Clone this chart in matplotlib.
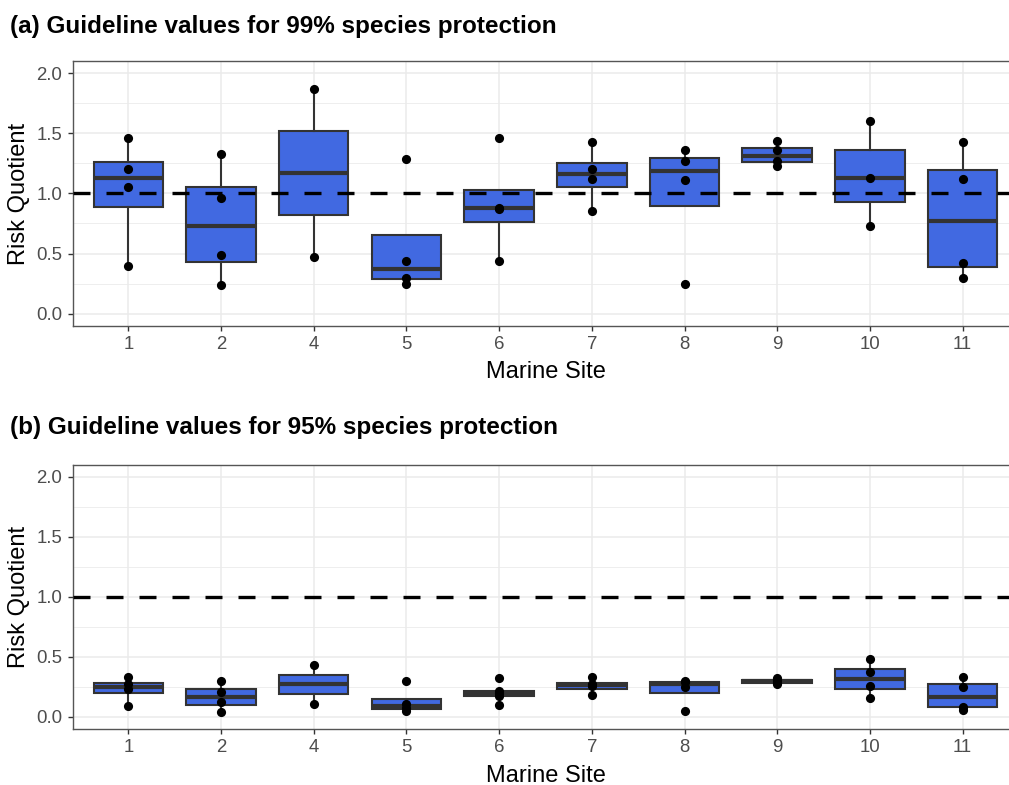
import matplotlib
matplotlib.use("Agg")
import matplotlib.pyplot as plt
import numpy as np

plt.rcParams['font.family'] = ['Liberation Sans', 'DejaVu Sans']

sites = ['1', '2', '4', '5', '6', '7', '8', '9', '10', '11']

# risk quotients per site, 99% species protection guideline
rq99 = [
    [0.40, 1.05, 1.20, 1.46],
    [0.24, 0.49, 0.96, 1.33],
    [0.47, 1.87],
    [0.25, 0.30, 0.44, 1.29],
    [0.44, 0.87, 0.88, 1.46],
    [0.85, 1.12, 1.20, 1.43],
    [0.25, 1.11, 1.27, 1.36],
    [1.23, 1.27, 1.36, 1.44],
    [0.73, 1.13, 1.60],
    [0.30, 0.42, 1.12, 1.43],
]

# risk quotients per site, 95% species protection guideline
rq95 = [
    [0.09, 0.23, 0.27, 0.33],
    [0.04, 0.12, 0.21, 0.30],
    [0.11, 0.43],
    [0.045, 0.075, 0.105, 0.295],
    [0.10, 0.178, 0.20, 0.215, 0.32],
    [0.18, 0.255, 0.27, 0.33],
    [0.045, 0.25, 0.29, 0.30],
    [0.27, 0.29, 0.305, 0.325],
    [0.16, 0.26, 0.37, 0.48],
    [0.06, 0.085, 0.25, 0.33],
]

titles = ["(a) Guideline values for 99% species protection",
          "(b) Guideline values for 95% species protection"]
threshold = 1.0

W, H = 1009, 785
fig = plt.figure(figsize=(W / 100, H / 100), dpi=100)

fill = '#4169E1'
edge = '#333333'
pos = np.arange(1, len(sites) + 1)


def draw_panel(ax, data):
    ax.boxplot(data, positions=pos, widths=0.75, patch_artist=True,
               showfliers=False, showcaps=False, whis=1.5,
               boxprops=dict(facecolor=fill, edgecolor=edge, linewidth=1.5),
               medianprops=dict(color=edge, linewidth=3.0),
               whiskerprops=dict(color=edge, linewidth=1.5),
               zorder=2)
    ax.axhline(threshold, color='black', lw=2.4, ls=(0, (5.1, 4.8)), zorder=3)
    for x, vals in zip(pos, data):
        ax.plot([x] * len(vals), vals, 'o', color='black', ms=6.6, mec='none', zorder=4)

    ax.set_xlim(0.4, len(sites) + 0.6)
    ax.set_ylim(-0.1, 2.1)
    ax.set_xticks(pos)
    ax.set_xticklabels(sites)
    ax.set_yticks([0, 0.5, 1.0, 1.5, 2.0])
    ax.set_yticklabels(['0.0', '0.5', '1.0', '1.5', '2.0'])
    ax.set_yticks([0.25, 0.75, 1.25, 1.75], minor=True)
    ax.tick_params(axis='both', which='major', length=3.6, width=1.0, color=edge,
                   labelsize=13.4, labelcolor='#4D4D4D', pad=3.8)
    ax.tick_params(axis='y', which='minor', length=0)
    ax.grid(True, which='major', color='#EBEBEB', lw=1.1, zorder=0)
    ax.grid(True, which='minor', axis='y', color='#EBEBEB', lw=0.6, zorder=0)
    ax.set_axisbelow(True)
    for s in ax.spines.values():
        s.set_color('#555555')
        s.set_linewidth(1.0)
    ax.set_xlabel("Marine Site", fontsize=17, labelpad=6)
    ax.set_ylabel("Risk Quotient", fontsize=17, labelpad=4.5)


# pixel geometry of the two panels (right edge runs past the image)
left, right = 72.7, 1018.3
panels = [(61.3, 325.6), (464.7, 728.9)]
title_base = [32.5, 434.3]

for i, (data, (top, bot)) in enumerate(zip([rq99, rq95], panels)):
    ax = fig.add_axes([left / W, 1 - bot / H, (right - left) / W, (bot - top) / H])
    draw_panel(ax, data)
    fig.text(10 / W, 1 - title_base[i] / H, titles[i], fontsize=17.5,
             fontweight='bold', ha='left', va='baseline')

fig.savefig("out.png", dpi=100)
